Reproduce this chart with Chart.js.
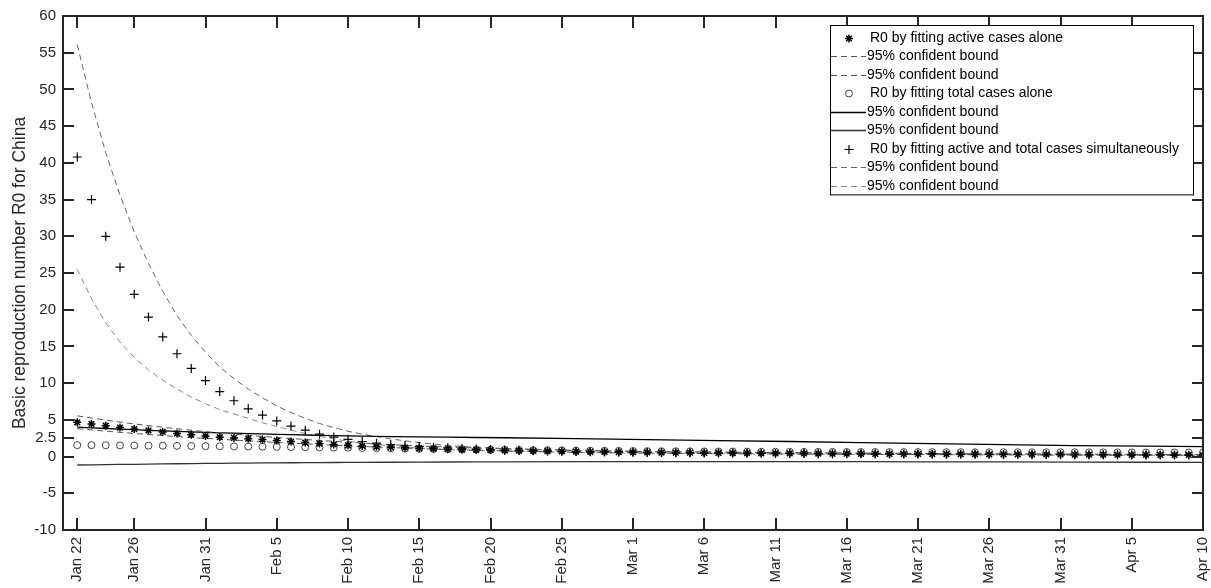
<!DOCTYPE html>
<html>
<head>
<meta charset="utf-8">
<script src="https://cdn.jsdelivr.net/npm/chart.js@4"></script>
<style>
  body { margin: 0; background: #fff; }
  #wrap { width: 1211px; height: 588px; }
</style>
</head>
<body>
<div id="wrap"><canvas id="r0Chart" width="1211" height="588"></canvas></div>
<script>
// x = days since Jan 22 (2020)
var tickDays = [0, 4, 9, 14, 19, 24, 29, 34, 39, 44, 49, 54, 59, 64, 69, 74, 79];
var tickLabels = ['Jan 22', 'Jan 26', 'Jan 31', 'Feb 5', 'Feb 10', 'Feb 15', 'Feb 20', 'Feb 25', 'Mar 1',
  'Mar 6', 'Mar 11', 'Mar 16', 'Mar 21', 'Mar 26', 'Mar 31', 'Apr 5', 'Apr 10'];
var yTicks = [-10, -5, 0, 2.5, 5, 10, 15, 20, 25, 30, 35, 40, 45, 50, 55, 60];

// R0 by fitting active cases alone (one value per day)
var activeR0 = [4.67, 4.44, 4.20, 3.95, 3.75, 3.55, 3.35, 3.15, 2.97, 2.80,
  2.64, 2.54, 2.43, 2.32, 2.18, 2.04, 1.90, 1.77, 1.65, 1.53,
  1.45, 1.36, 1.28, 1.21, 1.14, 1.08, 1.01, 0.96, 0.92, 0.88,
  0.84, 0.80, 0.76, 0.73, 0.70, 0.67, 0.65, 0.63, 0.61, 0.59,
  0.57, 0.55, 0.53, 0.52, 0.50, 0.49, 0.48, 0.46, 0.45, 0.44,
  0.43, 0.42, 0.41, 0.40, 0.39, 0.38, 0.37, 0.36, 0.35, 0.35,
  0.34, 0.33, 0.32, 0.32, 0.31, 0.30, 0.30, 0.29, 0.28, 0.28,
  0.27, 0.26, 0.26, 0.25, 0.24, 0.24, 0.23, 0.22, 0.22, 0.21];
// R0 by fitting total cases alone
var totalR0 = [1.56, 1.55, 1.54, 1.52, 1.51, 1.49, 1.48, 1.46, 1.44, 1.42,
  1.40, 1.38, 1.36, 1.34, 1.32, 1.30, 1.27, 1.25, 1.23, 1.20,
  1.17, 1.14, 1.12, 1.09, 1.06, 1.04, 1.01, 0.99, 0.96, 0.94,
  0.92, 0.90, 0.88, 0.86, 0.84, 0.82, 0.80, 0.79, 0.77, 0.76,
  0.74, 0.73, 0.72, 0.71, 0.70, 0.69, 0.68, 0.67, 0.66, 0.66,
  0.65, 0.64, 0.64, 0.63, 0.63, 0.62, 0.62, 0.61, 0.61, 0.61,
  0.60, 0.60, 0.60, 0.59, 0.59, 0.59, 0.59, 0.58, 0.58, 0.58,
  0.58, 0.57, 0.57, 0.57, 0.57, 0.56, 0.56, 0.56, 0.56, 0.55];
// R0 by fitting active and total cases simultaneously
var bothR0 = [40.8, 35.0, 30.0, 25.8, 22.1, 19.0, 16.3, 14.0, 12.0, 10.35,
  8.85, 7.6, 6.5, 5.65, 4.85, 4.15, 3.6, 3.05, 2.65, 2.35,
  2.05, 1.82, 1.64, 1.50, 1.38, 1.28, 1.19, 1.11, 1.03, 0.96,
  0.90, 0.85, 0.80, 0.76, 0.72, 0.68, 0.65, 0.62, 0.60, 0.58,
  0.56, 0.54, 0.52, 0.51, 0.49, 0.48, 0.47, 0.45, 0.44, 0.43,
  0.42, 0.41, 0.40, 0.39, 0.38, 0.37, 0.36, 0.35, 0.34, 0.34,
  0.33, 0.32, 0.31, 0.31, 0.30, 0.29, 0.29, 0.28, 0.27, 0.27,
  0.26, 0.25, 0.25, 0.24, 0.23, 0.23, 0.22, 0.21, 0.21, 0.20];

// confidence bounds, sampled on these days
var boundDays = [0, 1, 2, 3, 4, 5, 6, 7, 8, 9, 10, 11, 12, 13, 14, 15, 16, 17, 18, 19, 20,
  22, 24, 26, 28, 30, 35, 40, 45, 50, 55, 60, 65, 70, 75, 79];
var activeUpper = [5.55, 5.25, 4.97, 4.70, 4.45, 4.22, 4.00, 3.79, 3.59, 3.40, 3.22, 3.06, 2.90, 2.75, 2.60, 2.46, 2.33, 2.20, 2.08, 1.96, 1.85,
  1.63, 1.45, 1.30, 1.16, 1.04, 0.82, 0.68, 0.59, 0.52, 0.46, 0.41, 0.36, 0.32, 0.29, 0.27];
var activeLower = [3.80, 3.63, 3.46, 3.30, 3.15, 3.00, 2.86, 2.73, 2.60, 2.48, 2.36, 2.25, 2.14, 2.03, 1.93, 1.83, 1.73, 1.63, 1.54, 1.45, 1.37,
  1.22, 1.08, 0.96, 0.86, 0.77, 0.60, 0.49, 0.41, 0.35, 0.31, 0.27, 0.24, 0.21, 0.18, 0.16];
var totalUpper = [4.00, 3.90, 3.82, 3.74, 3.66, 3.58, 3.50, 3.43, 3.36, 3.30, 3.24, 3.18, 3.13, 3.08, 3.03, 2.98, 2.94, 2.90, 2.86, 2.82, 2.79,
  2.73, 2.68, 2.64, 2.60, 2.56, 2.45, 2.30, 2.17, 2.05, 1.90, 1.75, 1.62, 1.50, 1.42, 1.36];
var totalLower = [-1.15, -1.12, -1.10, -1.07, -1.05, -1.02, -1.00, -0.98, -0.96, -0.94, -0.92, -0.90, -0.88, -0.87, -0.85, -0.84, -0.83, -0.82, -0.81, -0.80, -0.79,
  -0.77, -0.75, -0.74, -0.73, -0.72, -0.70, -0.69, -0.69, -0.69, -0.70, -0.71, -0.73, -0.75, -0.77, -0.78];
var bothUpper = [56.1, 48.2, 41.4, 35.6, 30.6, 26.3, 22.5, 19.2, 16.5, 14.2, 12.2, 10.6, 9.2, 8.0, 6.9, 6.0, 5.2, 4.5, 3.95, 3.45, 3.05,
  2.4, 1.9, 1.5, 1.25, 1.1, 0.85, 0.70, 0.60, 0.52, 0.46, 0.41, 0.36, 0.32, 0.29, 0.27];
var bothLower = [25.5, 21.5, 18.2, 15.6, 13.5, 11.8, 10.4, 9.2, 8.1, 7.2, 6.4, 5.8, 5.2, 4.6, 4.1, 3.6, 3.15, 2.75, 2.4, 2.1, 1.85,
  1.45, 1.15, 0.95, 0.82, 0.72, 0.55, 0.45, 0.38, 0.33, 0.29, 0.26, 0.23, 0.20, 0.18, 0.16];

var FONT = '"Liberation Sans", Arial, sans-serif';

function daily(values) {
  return values.map(function(v, i) { return {x: i, y: v}; });
}
function sampled(values) {
  return values.map(function(v, i) { return {x: boundDays[i], y: v}; });
}
function markers(label, values, style, radius, color, width) {
  return {
    label: label, data: daily(values), showLine: false,
    pointStyle: style, pointRadius: radius, pointBorderColor: color,
    pointBackgroundColor: 'rgba(0,0,0,0)', pointBorderWidth: width
  };
}
function bound(values, color, dash, width) {
  return {
    label: '95% confident bound', data: sampled(values), showLine: true,
    borderColor: color, borderDash: dash, borderWidth: width,
    pointRadius: 0, tension: 0
  };
}

// MATLAB style box with ticks pointing inwards
var boxPlugin = {
  id: 'box',
  afterDraw: function(chart) {
    var ctx = chart.ctx, a = chart.chartArea;
    var xs = chart.scales.x, ys = chart.scales.y;
    ctx.save();
    ctx.strokeStyle = '#262626';
    ctx.lineWidth = 2;
    ctx.strokeRect(a.left, a.top, a.right - a.left, a.bottom - a.top);
    ctx.beginPath();
    tickDays.forEach(function(d) {
      var px = Math.round(xs.getPixelForValue(d));
      ctx.moveTo(px, a.bottom); ctx.lineTo(px, a.bottom - 12);
      ctx.moveTo(px, a.top); ctx.lineTo(px, a.top + 12);
    });
    yTicks.forEach(function(v) {
      var py = Math.round(ys.getPixelForValue(v));
      ctx.moveTo(a.left, py); ctx.lineTo(a.left + 11, py);
      ctx.moveTo(a.right, py); ctx.lineTo(a.right - 11, py);
    });
    ctx.stroke();
    ctx.restore();
  }
};

// legend box in the upper right corner
var legendPlugin = {
  id: 'matlabLegend',
  afterDraw: function(chart) {
    var ctx = chart.ctx;
    var sets = chart.data.datasets;
    var left = 830, top = 25, right = 1193, rowH = 18.55, firstY = 37.5;
    var bottom = firstY + rowH * (sets.length - 1) + 8.5;
    ctx.save();
    ctx.fillStyle = '#fff';
    ctx.fillRect(left, top, right - left, bottom - top);
    ctx.strokeStyle = '#000';
    ctx.lineWidth = 1;
    ctx.strokeRect(left + 0.5, top + 0.5, right - left, bottom - top);
    ctx.font = '14px ' + FONT;
    ctx.textBaseline = 'middle';
    sets.forEach(function(ds, i) {
      var y = Math.round(firstY + i * rowH) + 0.5;
      if (ds.showLine) {
        ctx.strokeStyle = ds.borderColor;
        ctx.lineWidth = ds.borderWidth;
        ctx.setLineDash(ds.borderDash || []);
        ctx.beginPath();
        ctx.moveTo(left + 1, y); ctx.lineTo(left + 36, y);
        ctx.stroke();
        ctx.setLineDash([]);
      } else {
        ctx.strokeStyle = ds.pointBorderColor;
        ctx.fillStyle = 'rgba(0,0,0,0)';
        ctx.lineWidth = ds.pointBorderWidth;
        Chart.helpers.drawPoint(ctx, {pointStyle: ds.pointStyle, radius: ds.pointRadius, rotation: 0, borderWidth: ds.pointBorderWidth}, left + 19, y);
      }
      ctx.fillStyle = '#000';
      ctx.fillText(ds.label, ds.showLine ? left + 37 : left + 40, y);
    });
    ctx.restore();
  }
};

document.addEventListener('DOMContentLoaded', function() {
  var ctx = document.getElementById('r0Chart').getContext('2d');

  var datasets = [
    markers('R0 by fitting active cases alone', activeR0, 'star', 4, '#000', 1.5),
    bound(activeUpper, '#555', [6, 4], 1),
    bound(activeLower, '#555', [6, 4], 1),
    markers('R0 by fitting total cases alone', totalR0, 'circle', 3.5, '#444', 1),
    bound(totalUpper, '#000', [], 1.3),
    bound(totalLower, '#333', [], 1.3),
    markers('R0 by fitting active and total cases simultaneously', bothR0, 'cross', 4.5, '#000', 1.2),
    bound(bothUpper, '#666', [6, 4], 1),
    bound(bothLower, '#888', [6, 4], 1)
  ];

  new Chart(ctx, {
    type: 'scatter',
    data: {datasets: datasets},
    plugins: [boxPlugin, legendPlugin],
    options: {
      responsive: false,
      animation: false,
      events: [],
      layout: {padding: {top: 16, right: 8, left: 0, bottom: 0}},
      plugins: {legend: {display: false}, tooltip: {enabled: false}},
      scales: {
        x: {
          type: 'linear', min: -1, max: 79,
          afterBuildTicks: function(scale) {
            scale.ticks = tickDays.map(function(d) { return {value: d}; });
          },
          afterFit: function(scale) {
            scale.height = 58;
            scale.paddingLeft = 0;
            scale.paddingRight = 0;
          },
          grid: {display: false, drawTicks: false},
          border: {display: false},
          ticks: {
            autoSkip: false, minRotation: 90, maxRotation: 90, padding: 7,
            color: '#262626', font: {family: FONT, size: 15},
            callback: function(v) { return tickLabels[tickDays.indexOf(v)]; }
          }
        },
        y: {
          type: 'linear', min: -10, max: 60,
          afterBuildTicks: function(scale) {
            scale.ticks = yTicks.map(function(v) { return {value: v}; });
          },
          afterFit: function(scale) {
            scale.width = 63;
            scale.paddingTop = 0;
            scale.paddingBottom = 0;
          },
          grid: {display: false, drawTicks: false},
          border: {display: false},
          ticks: {
            padding: 7, color: '#262626', font: {family: FONT, size: 15},
            callback: function(v) { return String(v); }
          },
          title: {
            display: true, text: 'Basic reproduction number R0 for China',
            color: '#262626', font: {family: FONT, size: 17.5}, padding: {top: 10, bottom: 0}
          }
        }
      }
    }
  });
});
</script>
</body>
</html>
